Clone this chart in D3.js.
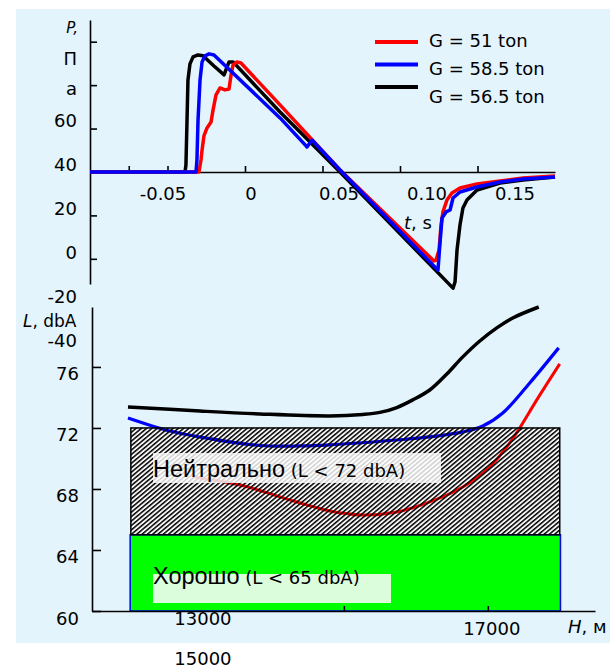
<!DOCTYPE html>
<html>
<head>
<meta charset="utf-8">
<script src="https://cdn.jsdelivr.net/npm/d3@7"></script>
<style>
  body { margin: 0; background: #fff; }
  text { font-family: "DejaVu Sans", sans-serif; fill: #000; }
</style>
</head>
<body>
<svg id="chart" width="610" height="668"></svg>
<script>

// ---- top panel: pressure signature ----
let tBlack = [-0.1, -0.0387, -0.0381, -0.0374, -0.0368, -0.0355, -0.0335, -0.0303, -0.0271, -0.02, -0.0135, -0.0123, -0.0103, -0.0077, 0.0226, 0.0613, 0.1342, 0.1355, 0.1368, 0.1387, 0.1406, 0.1432, 0.1497, 0.1645, 0.1794, 0.2];
let pBlack = [0, 0, 3.2, 24.0, 42.4, 49.8, 53.0, 53.9, 53.5, 48.8, 44.7, 47.0, 50.7, 50.7, 27.6, 0, -53.5, -50.7, -35.9, -24.4, -16.6, -12.9, -8.3, -5.1, -3.7, -2.3];

let tBlue = [-0.1, -0.0316, -0.031, -0.0303, -0.029, -0.0277, -0.0258, -0.0232, -0.02, 0.0226, 0.0394, 0.04, 0.0432, 0.0613, 0.1245, 0.1258, 0.1271, 0.1297, 0.1323, 0.1342, 0.1387, 0.1497, 0.1645, 0.1794, 0.2];
let pBlue = [0, 0, 5.5, 24.0, 42.4, 50.7, 53.5, 54.4, 53.9, 24.9, 12.0, 11.5, 14.7, 0.9, -45.2, -32.7, -21.2, -18.4, -17.5, -12.0, -9.2, -6.9, -4.6, -3.2, -2.3];

let tRed = [-0.1, -0.0297, -0.0284, -0.0277, -0.0265, -0.0245, -0.0219, -0.0206, -0.0187, -0.0161, -0.0129, -0.0103, -0.009, -0.0077, -0.0052, -0.0026, 0.0226, 0.0613, 0.1219, 0.1232, 0.1252, 0.1265, 0.1277, 0.1303, 0.1335, 0.1387, 0.1497, 0.1645, 0.1794, 0.2];
let pRed = [0, 0, 5.5, 10.1, 16.6, 20.3, 23.0, 28.6, 35.5, 38.7, 37.8, 38.2, 44.7, 49.3, 50.7, 50.2, 30.9, 0.9, -41.0, -40.6, -35.9, -24.4, -18.4, -12.9, -9.7, -7.4, -5.5, -4.1, -2.8, -1.8];

let tTicks = [-0.075, -0.05, 0, 0.05, 0.1, 0.15];
let tLabels = [-0.05, 0, 0.05, 0.1, 0.15];
let pTicks = [60, 40, 20, 0, -20, -40];
let pLabels = [60, 40, 20, 0, -20, -40];

let legendNames = ["G = 51 ton", "G = 58.5 ton", "G = 56.5 ton"];
let legendColors = ["#ff0000", "#0000ff", "#000000"];

// ---- bottom panel: noise level vs altitude ----
let hBlack = [12000, 13000, 13830, 14806, 15264, 15500, 15736, 15958, 16194, 16431, 16653, 16889, 17125, 17347, 17708];
let lBlack = [73.38, 73.11, 72.92, 72.79, 72.89, 73.02, 73.34, 73.84, 74.49, 75.54, 76.66, 77.70, 78.56, 79.21, 79.93];

let hBlue = [12000, 12583, 13000, 13833, 14389, 14806, 15736, 16194, 16653, 16931, 17208, 17583, 17986];
let lBlue = [72.66, 71.8, 71.41, 70.85, 70.82, 70.89, 71.21, 71.41, 71.74, 72.13, 72.98, 74.95, 77.25];

let hRed = [12900, 13000, 13556, 14347, 14806, 15264, 15736, 16194, 16653, 17028, 17306, 17444, 17681, 18000];
let lRed = [68.85, 68.72, 68.26, 67.15, 66.56, 66.3, 66.49, 67.15, 68.13, 69.44, 71.02, 72.0, 73.84, 76.2];

let zoneNeutral = [12040, 18000, 65, 72];
let zoneGood = [12030, 18010, 60, 65];
let lTicks = [60, 64, 68, 72, 76];
let hTicks = [15000, 17000];
let hLabels = ["13000", "15000", "17000"];

const svg = d3.select("#chart");

const defs = svg.append("defs");
const hatch = defs.append("pattern")
    .attr("id", "hatch")
    .attr("patternUnits", "userSpaceOnUse")
    .attr("width", 8)
    .attr("height", 3.4)
    .attr("patternTransform", "rotate(-40)");
hatch.append("rect").attr("x", 0).attr("y", 0).attr("width", 8).attr("height", 1.5).attr("fill", "#000");

// background
svg.append("rect")
    .attr("x", 16).attr("y", 9)
    .attr("width", 594).attr("height", 634)
    .attr("fill", "#e3f4fd");

// ===== top panel =====
let xT = d3.scaleLinear().domain([-0.1, 0.2]).range([90, 555]);
let yP = d3.scaleLinear().domain([-51.6, 70]).range([284, 20]);
let xTlab = d3.scaleLinear().domain([-0.05, 0.15]).range([163, 515]);
let yPlab = d3.scaleLinear().domain([60, -40]).range([126.5, 346.5]);

let lineP = d3.line()
    .x(d => xT(d[0]))
    .y(d => yP(d[1]));

const topG = svg.append("g");

topG.append("g")
    .attr("transform", "translate(" + xT(-0.1) + ",0)")
    .call(d3.axisRight(yP).tickValues(pTicks).tickSize(7).tickSizeOuter(0).tickFormat(""))
    .call(g => g.selectAll("path,line").attr("stroke", "#000").attr("stroke-width", 1.6));

topG.append("g")
    .attr("transform", "translate(0," + yP(0) + ")")
    .call(d3.axisTop(xT).tickValues(tTicks).tickSize(6).tickSizeOuter(0).tickFormat(""))
    .call(g => g.selectAll("path,line").attr("stroke", "#000").attr("stroke-width", 1.6));

topG.selectAll(".tlab")
    .data(tLabels)
    .enter()
    .append("text")
    .attr("class", "tlab")
    .attr("x", d => xTlab(d))
    .attr("y", 200)
    .attr("text-anchor", "middle")
    .style("font-size", "18px")
    .text(d => d === 0 ? "0" : (d === 0.1 ? "0.10" : String(d)));

topG.selectAll(".plab")
    .data(pLabels)
    .enter()
    .append("text")
    .attr("class", "plab")
    .attr("x", 77)
    .attr("y", d => yPlab(d))
    .attr("text-anchor", "end")
    .style("font-size", "18px")
    .text(d => d);

// wrapped axis title P, Па
topG.append("text").attr("x", 78).attr("y", 33).attr("text-anchor", "end")
    .style("font-size", "15px").style("font-style", "italic").text("P,");
topG.append("text").attr("x", 77).attr("y", 65).attr("text-anchor", "end")
    .style("font-size", "18px").text("П");
topG.append("text").attr("x", 77).attr("y", 95).attr("text-anchor", "end")
    .style("font-size", "18px").text("а");

topG.append("text").attr("x", 404).attr("y", 229).style("font-size", "18px")
    .html('<tspan font-style="italic">t</tspan>, s');

let seriesTop = [
    {t: tBlack, p: pBlack, c: "#000000"},
    {t: tRed, p: pRed, c: "#ff0000"},
    {t: tBlue, p: pBlue, c: "#0000ff"}
];
seriesTop.forEach(s => {
    topG.append("path")
        .datum(s.t.map((t, i) => [t, s.p[i]]))
        .attr("d", lineP)
        .attr("fill", "none")
        .attr("stroke", s.c)
        .attr("stroke-width", 3.5)
        .attr("stroke-linejoin", "round");
});

// legend
const legend = topG.append("g").attr("id", "legend");
legendNames.forEach((name, i) => {
    legend.append("line")
        .attr("x1", 375).attr("x2", 418)
        .attr("y1", 42 + i * 22.5).attr("y2", 42 + i * 22.5)
        .attr("stroke", legendColors[i])
        .attr("stroke-width", 4);
    legend.append("text")
        .attr("x", 429).attr("y", 47 + i * 28)
        .style("font-size", "18px")
        .text(name);
});

// ===== bottom panel =====
let xH = d3.scaleLinear().domain([11500, 18490]).range([92, 595]);
let yL = d3.scaleLinear().domain([60, 79.93]).range([611, 307]);

let lineL = d3.line()
    .x(d => xH(d[0]))
    .y(d => yL(d[1]))
    .curve(d3.curveCatmullRom.alpha(0.5));

const botG = svg.append("g");

// light fill under hatch
botG.append("rect")
    .attr("x", xH(zoneNeutral[0])).attr("y", yL(zoneNeutral[3]))
    .attr("width", xH(zoneNeutral[1]) - xH(zoneNeutral[0]))
    .attr("height", yL(zoneNeutral[2]) - yL(zoneNeutral[3]))
    .attr("fill", "#f6f6f6");

let seriesBot = [
    {h: hRed, l: lRed, c: "#ff0000", w: 3},
    {h: hBlue, l: lBlue, c: "#0000ff", w: 3.2},
    {h: hBlack, l: lBlack, c: "#000000", w: 3.5}
];
seriesBot.forEach(s => {
    botG.append("path")
        .datum(s.h.map((h, i) => [h, s.l[i]]))
        .attr("d", lineL)
        .attr("fill", "none")
        .attr("stroke", s.c)
        .attr("stroke-width", s.w);
});

// hatched zone on top of curves
botG.append("rect")
    .attr("x", xH(zoneNeutral[0])).attr("y", yL(zoneNeutral[3]))
    .attr("width", xH(zoneNeutral[1]) - xH(zoneNeutral[0]))
    .attr("height", yL(zoneNeutral[2]) - yL(zoneNeutral[3]))
    .attr("fill", "url(#hatch)")
    .attr("stroke", "#000")
    .attr("stroke-width", 1.5);

// green zone
botG.append("rect")
    .attr("x", xH(zoneGood[0])).attr("y", yL(zoneGood[3]))
    .attr("width", xH(zoneGood[1]) - xH(zoneGood[0]))
    .attr("height", yL(zoneGood[2]) - yL(zoneGood[3]))
    .attr("fill", "#00ff00")
    .attr("stroke", "#0000ff")
    .attr("stroke-width", 1.5);
botG.append("line")
    .attr("x1", xH(zoneGood[0])).attr("x2", xH(zoneGood[1]))
    .attr("y1", yL(zoneGood[3])).attr("y2", yL(zoneGood[3]))
    .attr("stroke", "#000").attr("stroke-width", 1.5);

// zone captions
botG.append("rect").attr("x", 153).attr("y", 453).attr("width", 288).attr("height", 30)
    .attr("fill", "#ffffff").attr("opacity", 0.82);
botG.append("text").attr("x", 153).attr("y", 477)
    .html('<tspan style="font-family:\'Liberation Sans\';font-size:23.5px">Нейтрально</tspan><tspan style="font-size:18px"> (L &lt; 72 dbA)</tspan>');

botG.append("rect").attr("x", 153).attr("y", 574).attr("width", 238).attr("height", 29)
    .attr("fill", "#dcfddc");
botG.append("text").attr("x", 153).attr("y", 584)
    .html('<tspan style="font-family:\'Liberation Sans\';font-size:23.5px">Хорошо</tspan><tspan style="font-size:18px"> (L &lt; 65 dbA)</tspan>');

// axes
botG.append("g")
    .attr("transform", "translate(" + xH(11500) + ",0)")
    .call(d3.axisRight(yL).tickValues(lTicks).tickSize(9).tickSizeOuter(0).tickFormat(""))
    .call(g => g.selectAll("path,line").attr("stroke", "#000").attr("stroke-width", 1.6));

botG.append("g")
    .attr("transform", "translate(0," + yL(60) + ")")
    .call(d3.axisTop(xH).tickValues(hTicks).tickSize(5).tickSizeOuter(0).tickFormat(""))
    .call(g => g.selectAll("path,line").attr("stroke", "#000").attr("stroke-width", 1.6));

botG.selectAll(".llab")
    .data(lTicks)
    .enter()
    .append("text")
    .attr("class", "llab")
    .attr("x", 79)
    .attr("y", d => yL(d) + 13.5)
    .attr("text-anchor", "end")
    .style("font-size", "18px")
    .text(d => d);

botG.append("text").attr("x", 23).attr("y", 327).style("font-size", "17px")
    .html('<tspan font-style="italic">L</tspan>, dbA');

// stray x labels
botG.append("text").attr("x", xH(13000) + 3).attr("y", 625).attr("text-anchor", "middle")
    .style("font-size", "18px").text(hLabels[0]);
botG.append("text").attr("x", xH(13000) + 3).attr("y", 665).attr("text-anchor", "middle")
    .style("font-size", "18px").text(hLabels[1]);
botG.append("text").attr("x", xH(17000) + 4).attr("y", 635).attr("text-anchor", "middle")
    .style("font-size", "18px").text(hLabels[2]);

botG.append("text").attr("x", 568).attr("y", 633).style("font-size", "18px")
    .html('<tspan font-style="italic">H</tspan>, м');

</script>
</body>
</html>
